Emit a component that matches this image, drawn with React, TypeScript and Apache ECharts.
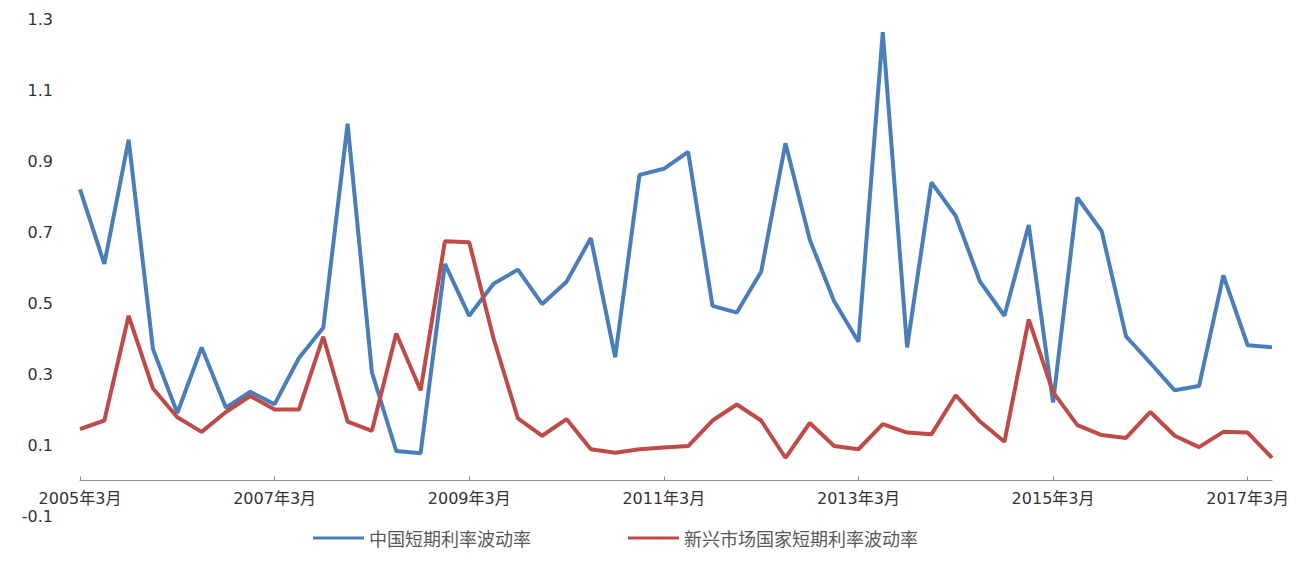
import React, { useEffect, useRef } from "react";
import * as echarts from "echarts";

const years = [2005, 2006, 2007, 2008, 2009, 2010, 2011, 2012, 2013, 2014, 2015, 2016, 2017];
const months = [3, 6, 9, 12];
const categories: string[] = [];
years.forEach((y) => months.forEach((m) => categories.push(`${y}年${m}月`)));
categories.length = 50;

const chinaName = "中国短期利率波动率";
const emergingName = "新兴市场国家短期利率波动率";

const chinaVol = [
  0.82, 0.61, 0.96, 0.37, 0.19, 0.375, 0.205, 0.25, 0.215, 0.345,
  0.43, 1.005, 0.305, 0.083, 0.077, 0.61, 0.464, 0.554, 0.594, 0.497,
  0.56, 0.683, 0.347, 0.861, 0.878, 0.926, 0.492, 0.473, 0.588, 0.95,
  0.678, 0.505, 0.391, 1.263, 0.375, 0.84, 0.745, 0.56, 0.464, 0.72,
  0.22, 0.797, 0.702, 0.406, 0.331, 0.254, 0.266, 0.578, 0.381, 0.375,
];

const emergingVol = [
  0.145, 0.169, 0.464, 0.259, 0.178, 0.137, 0.193, 0.238, 0.2, 0.2,
  0.405, 0.166, 0.14, 0.414, 0.254, 0.674, 0.671, 0.4, 0.175, 0.126,
  0.173, 0.088, 0.078, 0.088, 0.093, 0.097, 0.169, 0.214, 0.169, 0.064,
  0.162, 0.097, 0.088, 0.159, 0.135, 0.13, 0.24, 0.166, 0.109, 0.454,
  0.249, 0.156, 0.128, 0.12, 0.193, 0.126, 0.094, 0.137, 0.135, 0.064,
];

const yMin = -0.1;
const yMax = 1.3;
const yStep = 0.2;

const BLUE = "#4A7EBB";
const RED = "#BE4B48";

const GRID_TOP = 19;
const GRID_BOTTOM = 56;
const CHART_H = 572;

export default function App() {
  const ref = useRef<HTMLDivElement>(null);

  useEffect(() => {
    if (!ref.current) return;
    const chart = echarts.init(ref.current, undefined, { renderer: "svg" });
    // distance from the grid bottom (yMin) up to the zero line
    const plotH = CHART_H - GRID_TOP - GRID_BOTTOM;
    const zeroOffset = (plotH * (0 - yMin)) / (yMax - yMin);
    chart.setOption({
      animation: false,
      backgroundColor: "#ffffff",
      grid: { left: 80, right: 32, top: GRID_TOP, bottom: GRID_BOTTOM, containLabel: false },
      legend: {
        left: 308,
        top: 524,
        icon: "rect",
        itemWidth: 51,
        itemHeight: 3,
        itemGap: 97,
        textStyle: {
          fontSize: 18,
          color: "#595959",
          fontFamily: "'Noto Sans CJK SC', sans-serif",
        },
        data: [chinaName, emergingName],
      },
      xAxis: {
        type: "category",
        data: categories,
        boundaryGap: false,
        offset: -zeroOffset,
        axisLine: { onZero: false, lineStyle: { color: "#8c8c8c", width: 1 } },
        axisTick: { show: true, inside: true, length: 4, interval: 7, lineStyle: { color: "#8c8c8c" } },
        axisLabel: {
          interval: 7,
          margin: 10,
          fontSize: 16,
          color: "#333333",
          fontFamily: "'DejaVu Sans', 'Noto Sans CJK SC', sans-serif",
        },
        splitLine: { show: false },
      },
      yAxis: {
        type: "value",
        min: yMin,
        max: yMax,
        interval: yStep,
        axisLine: { show: false },
        axisTick: { show: false },
        splitLine: { show: false },
        axisLabel: {
          margin: 27,
          fontSize: 16,
          color: "#333333",
          fontFamily: "'DejaVu Sans', sans-serif",
          formatter: (v: number) => v.toFixed(1),
        },
      },
      series: [
        {
          name: chinaName,
          type: "line",
          data: chinaVol,
          symbol: "none",
          color: BLUE,
          lineStyle: { color: BLUE, width: 4 },
        },
        {
          name: emergingName,
          type: "line",
          data: emergingVol,
          symbol: "none",
          color: RED,
          lineStyle: { color: RED, width: 4 },
        },
      ],
    });
    return () => chart.dispose();
  }, []);

  return (
    <div
      ref={ref}
      style={{ position: "absolute", left: 0, top: 0, width: 1304, height: 572, background: "#fff" }}
    />
  );
}
